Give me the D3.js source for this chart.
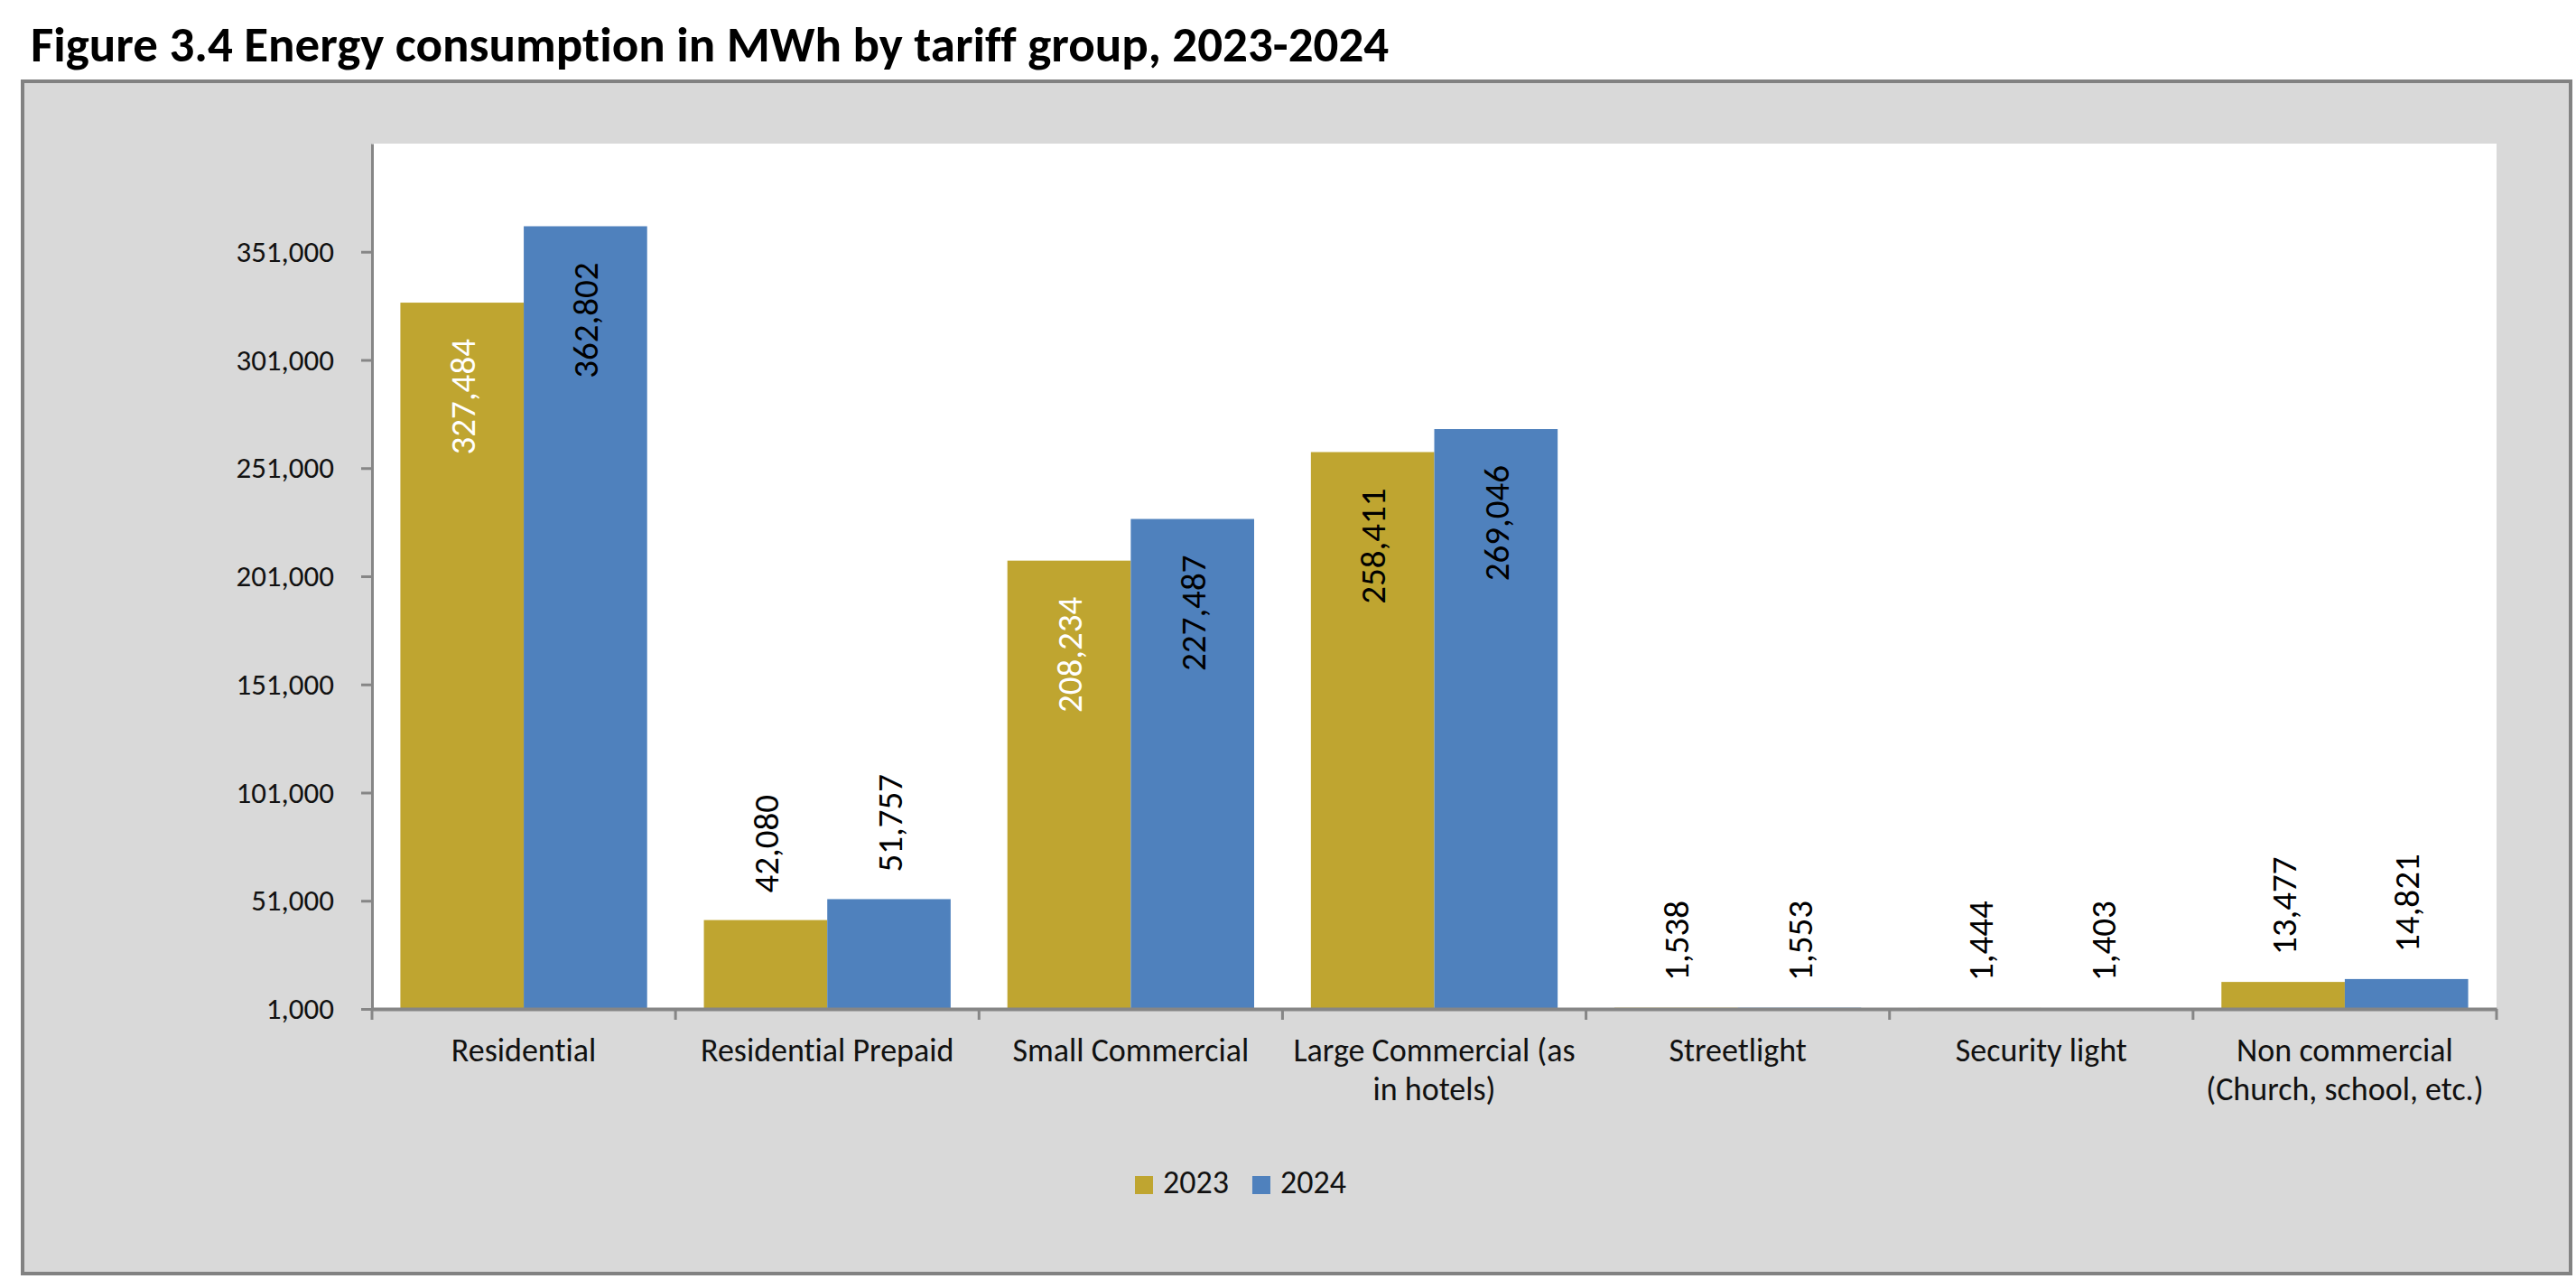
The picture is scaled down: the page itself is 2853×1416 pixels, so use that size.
<!DOCTYPE html>
<html>
<head>
<meta charset="utf-8">
<script src="https://cdn.jsdelivr.net/npm/d3@7"></script>
<style>
  html, body { margin: 0; padding: 0; background: #fff; }
  svg { display: block; }
  text { font-family: Carlito, Calibri, Lato, sans-serif; font-variant-ligatures: none; }
</style>
</head>
<body>
<div id="chart"></div>
<script>
// data
const categories = ['Residential', 'Residential Prepaid', 'Small Commercial',
  'Large Commercial (as in hotels)', 'Streetlight', 'Security light',
  'Non commercial (Church, school, etc.)']
const tickLines = [['Residential'], ['Residential Prepaid'], ['Small Commercial'],
  ['Large Commercial (as', 'in hotels)'], ['Streetlight'], ['Security light'],
  ['Non commercial', '(Church, school, etc.)']]
const series = ['2023', '2024']
const values2023 = [327484, 42080, 208234, 258411, 1538, 1444, 13477]
const values2024 = [362802, 51757, 227487, 269046, 1553, 1403, 14821]
const yTicks = [1000, 51000, 101000, 151000, 201000, 251000, 301000, 351000]
const yDomain = [1000, 401000]

const colors = { '2023': '#BFA530', '2024': '#4F81BD' }
// labels drawn in white inside the 2023 bars
const whiteLabels = new Set(['2023|Residential', '2023|Small Commercial'])

const W = 2853, H = 1416
const plot = { left: 412, top: 159, right: 2765, bottom: 1117 }
const axisFont = 33, catFont = 36, labelFont = 39
const axisColor = '#868686'

const rows = categories.map((c, i) => ({
  cat: c,
  vals: [{ s: '2023', v: values2023[i] }, { s: '2024', v: values2024[i] }]
}))

const svg = d3.select('#chart').append('svg')
  .attr('width', W)
  .attr('height', H)

// title
svg.append('text')
  .attr('x', 34)
  .attr('y', 68)
  .attr('font-weight', 'bold')
  .attr('font-size', 55)
  .text('Figure 3.4 Energy consumption in MWh by tariff group, 2023-2024')

// chart frame
svg.append('rect')
  .attr('x', 25).attr('y', 90)
  .attr('width', 2822).attr('height', 1320)
  .attr('fill', '#d9d9d9')
  .attr('stroke', '#828282')
  .attr('stroke-width', 4)

// plot area
svg.append('rect')
  .attr('x', plot.left).attr('y', plot.top)
  .attr('width', plot.right - plot.left).attr('height', plot.bottom - plot.top)
  .attr('fill', '#fff')

const x0 = d3.scaleBand()
  .domain(categories)
  .range([plot.left, plot.right])
  .paddingInner(0)
  .paddingOuter(0)

const x1 = d3.scaleBand()
  .domain(series)
  .range([0, x0.bandwidth()])
  .paddingInner(0)
  .paddingOuter(0.23)

const y = d3.scaleLinear()
  .domain(yDomain)
  .range([plot.bottom, plot.top])

// bars
const groups = svg.selectAll('.grp')
  .data(rows)
  .enter().append('g')
  .attr('class', 'grp')
  .attr('transform', d => 'translate(' + x0(d.cat) + ',0)')

groups.selectAll('rect')
  .data(d => d.vals.map(v => Object.assign({ cat: d.cat }, v)))
  .enter().append('rect')
  .attr('x', d => x1(d.s))
  .attr('width', x1.bandwidth())
  .attr('y', d => y(d.v))
  .attr('height', d => y(yDomain[0]) - y(d.v))
  .attr('fill', d => colors[d.s])

// data labels, rotated
const fmt = d3.format(',')
groups.selectAll('.lbl')
  .data(d => d.vals.map(v => Object.assign({ cat: d.cat }, v)))
  .enter().append('text')
  .attr('class', 'lbl')
  .attr('font-size', labelFont)
  .attr('dy', '0.36em')
  .text(d => fmt(d.v))
  .each(function (d) {
    const len = this.getComputedTextLength()
    const barH = y(yDomain[0]) - y(d.v)
    const cx = x1(d.s) + x1.bandwidth() / 2
    const inside = barH > len + 90
    const sel = d3.select(this)
    if (inside) {
      sel.attr('text-anchor', 'end')
        .attr('transform', 'translate(' + cx + ',' + (y(d.v) + 40) + ') rotate(-90)')
        .attr('fill', whiteLabels.has(d.s + '|' + d.cat) ? '#fff' : '#000')
    } else {
      sel.attr('text-anchor', 'start')
        .attr('transform', 'translate(' + cx + ',' + (y(d.v) - 30) + ') rotate(-90)')
        .attr('fill', '#000')
    }
  })

// y axis
const yAxis = svg.append('g')
  .attr('transform', 'translate(' + plot.left + ',0)')
  .call(d3.axisLeft(y).tickValues(yTicks).tickSize(12).tickSizeOuter(0)
    .tickPadding(30).tickFormat(fmt))
yAxis.select('.domain').attr('stroke', axisColor).attr('stroke-width', 3)
yAxis.selectAll('.tick line').attr('stroke', axisColor).attr('stroke-width', 3)
yAxis.selectAll('.tick text')
  .attr('font-family', 'Carlito, Calibri, Lato, sans-serif')
  .attr('font-size', axisFont)
  .attr('fill', '#111')

// x axis
const xAxis = svg.append('g')
  .attr('transform', 'translate(0,' + plot.bottom + ')')
  .call(d3.axisBottom(x0).tickSize(0).tickSizeOuter(0).tickFormat(''))
xAxis.select('.domain').attr('stroke', axisColor).attr('stroke-width', 4)

// category boundary ticks
const bounds = categories.map(c => x0(c)).concat([x0.range()[1]])
xAxis.selectAll('.bound')
  .data(bounds)
  .enter().append('line')
  .attr('class', 'bound')
  .attr('x1', d => d).attr('x2', d => d)
  .attr('y1', 0).attr('y2', 12)
  .attr('stroke', axisColor)
  .attr('stroke-width', 3)

xAxis.selectAll('.tick text').remove()
xAxis.selectAll('.tick')
  .append('text')
  .attr('font-family', 'Carlito, Calibri, Lato, sans-serif')
  .attr('font-size', catFont)
  .attr('fill', '#111')
  .attr('text-anchor', 'middle')
  .each(function (d) {
    const lines = tickLines[categories.indexOf(d)]
    d3.select(this).selectAll('tspan')
      .data(lines)
      .enter().append('tspan')
      .attr('x', 0)
      .attr('y', (l, i) => 58 + i * 43)
      .text(l => l)
  })

// legend
const legend = svg.append('g')
  .attr('transform', 'translate(1257,1302)')
let lx = 0
series.forEach(s => {
  const item = legend.append('g').attr('transform', 'translate(' + lx + ',0)')
  item.append('rect')
    .attr('width', 20).attr('height', 20)
    .attr('fill', colors[s])
  const t = item.append('text')
    .attr('x', 31)
    .attr('y', 19)
    .attr('font-size', catFont)
    .attr('fill', '#111')
    .text(s)
  lx += 31 + t.node().getComputedTextLength() + 26
})
</script>
</body>
</html>
